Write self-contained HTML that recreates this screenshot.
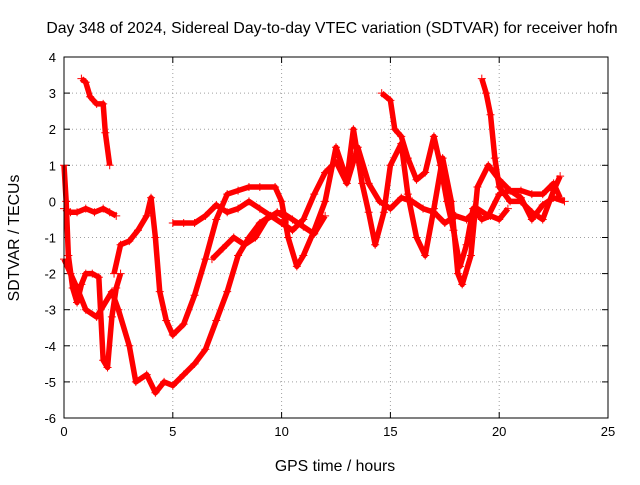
<!DOCTYPE html>
<html><head><meta charset="utf-8"><style>
body{margin:0;background:#fff}
svg{font-family:"Liberation Sans",sans-serif;font-size:13px}
.big{font-size:15.8px}
</style></head><body>
<svg id="chart" width="640" height="480">
<text class="big" x="332" y="33" text-anchor="middle">Day 348 of 2024, Sidereal Day-to-day VTEC variation (SDTVAR) for receiver hofn</text>
<text class="big" x="335" y="471" text-anchor="middle">GPS time / hours</text>
<text class="big" transform="translate(19,238) rotate(-90)" text-anchor="middle">SDTVAR / TECUs</text>
<g id="grid"></g><g id="ticks"></g><g id="series"></g>
<rect x="64" y="57" width="544" height="361" fill="none" stroke="#000"/>
</svg>
<script>
const xTicks=[0,5,10,15,20,25];
const yTicks=[4,3,2,1,0,-1,-2,-3,-4,-5,-6];
const trackA=[[0,-0.2],[0.3,-0.3],[0.6,-0.3],[1,-0.2],[1.4,-0.3],[1.8,-0.2],[2.1,-0.3],[2.4,-0.4]];
const trackB=[[0,1.0],[0.1,0],[0.2,-1.5],[0.4,-2.4],[0.6,-2.8],[0.8,-2.3],[1,-2.0],[1.3,-2.0],[1.6,-2.1],[1.8,-4.4],[2.0,-4.6],[2.2,-3.2],[2.4,-2.4],[2.6,-2.0]];
const trackC=[[0.8,3.4],[1.0,3.3],[1.2,2.9],[1.5,2.7],[1.8,2.7],[1.9,1.9],[2.1,1.0]];
const trackD=[[0,-1.6],[0.3,-2.0],[0.6,-2.4],[1,-3.0],[1.5,-3.2],[2.2,-2.5],[2.5,-3.0],[3,-4.0],[3.3,-5.0],[3.8,-4.8],[4.2,-5.3],[4.6,-5.0],[5,-5.1],[5.5,-4.8],[6,-4.5],[6.5,-4.1],[7,-3.3],[7.5,-2.5],[8,-1.5],[8.5,-1.0],[9,-0.6],[9.5,-0.4],[10,-0.6],[10.5,-0.8],[11,-0.5],[11.5,0.2],[12,0.8],[12.5,1.1],[13,0.5],[13.5,1.5],[14,0.5],[14.5,0.0],[15,-0.2],[15.5,0.1],[16,0.0],[16.5,-0.2],[17,-0.3],[17.5,-0.6],[18,-0.4],[18.5,-0.5],[19,-0.2],[19.5,-0.4],[20,0.2],[20.5,0.3],[21,0.1],[21.5,-0.5],[22,-0.1],[22.5,0.1],[23,0.0]];
const trackE=[[2.3,-2.0],[2.6,-1.2],[3,-1.1],[3.4,-0.8],[3.8,-0.4],[4.0,0.1],[4.2,-1.0],[4.4,-2.5],[4.7,-3.3],[5,-3.7],[5.5,-3.4],[6,-2.6],[6.5,-1.6],[7,-0.5],[7.5,0.2],[8,0.3],[8.5,0.4],[9,0.4],[9.7,0.4],[10,0.0],[10.3,-1.0],[10.7,-1.8],[11,-1.5],[11.5,-0.8],[12,0.0],[12.5,1.5],[13,0.6],[13.3,2.0],[13.7,0.5],[14,-0.3],[14.3,-1.2],[14.7,-0.3],[15,1.0],[15.5,1.6],[15.8,0.2],[16.2,-1.0],[16.6,-1.5],[17,-0.2],[17.4,1.2],[17.8,0.0],[18.1,-2.0],[18.3,-2.3],[18.7,-1.5],[19,0.4],[19.5,1.0],[20,0.6],[20.5,0.3],[21,0.3],[21.5,0.2],[22,0.2],[22.5,0.5],[22.8,0.1]];
const trackF=[[5,-0.6],[5.5,-0.6],[6,-0.6],[6.5,-0.4],[7,-0.1],[7.5,-0.3],[8,-0.2],[8.5,0.0],[9,-0.2],[9.5,-0.4],[10,-0.3],[10.5,-0.5],[11,-0.7],[11.5,-0.9],[12,-0.4]];
const trackG=[[6.8,-1.6],[7.3,-1.3],[7.8,-1.0],[8.3,-1.2],[8.8,-1.0],[9.3,-0.5],[9.8,-0.3],[10.3,-0.5]];
const trackH=[[14.6,3.0],[15,2.8],[15.2,2.0],[15.5,1.8],[15.8,1.2],[16.2,0.6],[16.6,0.8],[17,1.8],[17.3,1.0],[17.6,0.0],[17.9,-0.8],[18.2,-1.8],[18.5,-1.2],[18.8,-0.2],[19.2,-0.5],[19.6,-0.4],[20,-0.5],[20.4,-0.2]];
const trackI=[[19.2,3.4],[19.4,3.0],[19.6,2.4],[19.8,1.2],[20,0.4],[20.5,0.0],[21,0.0],[21.5,-0.3],[22,-0.5],[22.5,0.3],[22.8,0.7]];
const allTracks=[trackA,trackB,trackC,trackD,trackE,trackF,trackG,trackH,trackI];
const X0=64,X1=608,Y0=418,Y1=57;
const sx=v=>X0+(v-0)/25*(X1-X0);
const sy=v=>Y0-(v+6)/10*(Y0-Y1);
const NS="http://www.w3.org/2000/svg";
const grid=document.getElementById('grid'),ticks=document.getElementById('ticks'),ser=document.getElementById('series');
function mk(t,a,p){const e=document.createElementNS(NS,t);for(const k in a)e.setAttribute(k,a[k]);p.appendChild(e);return e;}
xTicks.forEach(v=>{const x=sx(v);
 const g=mk('line',{x1:x,x2:x,y1:Y0,y2:Y1,stroke:'#a0a0a0','stroke-dasharray':'1,3'},grid);
 
 
 mk('line',{x1:x,x2:x,y1:Y0,y2:Y0-6,stroke:'#000'},ticks);
 mk('line',{x1:x,x2:x,y1:Y1,y2:Y1+6,stroke:'#000'},ticks);
 const t=mk('text',{x:x,y:Y0+18,'text-anchor':'middle'},ticks);t.textContent=v;
 
 
});
yTicks.forEach(v=>{const y=sy(v);
 const g=mk('line',{x1:X0,x2:X1,y1:y,y2:y,stroke:'#a0a0a0','stroke-dasharray':'1,3'},grid);
 
 
 mk('line',{x1:X0,x2:X0+6,y1:y,y2:y,stroke:'#000'},ticks);
 mk('line',{x1:X1,x2:X1-6,y1:y,y2:y,stroke:'#000'},ticks);
 const t=mk('text',{x:X0-8,y:y+5,'text-anchor':'end'},ticks);t.textContent=v;
 
 
});
allTracks.forEach(tr=>{
 const pl=mk('polyline',{points:tr.map(p=>sx(p[0])+','+sy(p[1])).join(' '),fill:'none',stroke:'#f00','stroke-width':5.5,'stroke-linejoin':'round'},ser);
 
 
 tr.forEach(p=>{const x=sx(p[0]),y=sy(p[1]);
  const m=mk('path',{d:`M${x-4},${y}H${x+4}M${x},${y-4}V${y+4}`,stroke:'#f00','stroke-width':1},ser);
  
  
 });
});
</script>
</body></html>
